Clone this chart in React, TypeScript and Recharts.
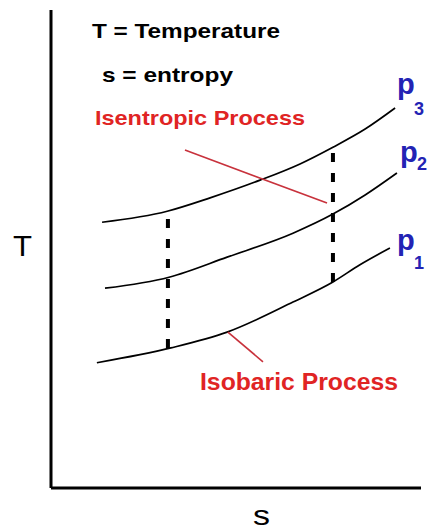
import { LineChart, Line, XAxis, YAxis, ReferenceLine } from "recharts";

// isobars: entropy s vs temperature T (arbitrary units 0-100)
const p1S = [12.4, 32.4, 47.6, 65.4, 76.2, 83.5, 91.6];
const p1T = [26.2, 29.3, 32.6, 38.9, 43.1, 46.7, 50.2];

const p2S = [14.6, 31.9, 47.6, 65.4, 76.2, 84.9, 93.5];
const p2T = [41.8, 44.1, 48.3, 53.3, 57.3, 61.3, 65.9];

const p3S = [13.8, 31.4, 43.0, 56.5, 67.3, 76.2, 84.9, 93.0];
const p3T = [55.6, 57.9, 60.7, 64.4, 67.8, 71.3, 75.1, 79.5];

// isentropic (constant s) steps between p1 and p3
const isoS = [31.6, 76.2];
const isoLowT = [29.3, 43.1];
const isoHighT = [57.7, 71.3];

const curveLabels = ["p", "p", "p"];
const curveSubs = ["1", "2", "3"];

const toRows = (s: number[], t: number[]) => s.map((v, i) => ({ s: v, T: t[i] }));

const FONT = "'Liberation Sans', Arial, sans-serif";
const RED = "#e02424";
const BLUE = "#2323b4";

export default function App() {
  const curves = [toRows(p1S, p1T), toRows(p2S, p2T), toRows(p3S, p3T)];
  const steps = isoS.map((s, i) => [
    { s, T: isoLowT[i] },
    { s, T: isoHighT[i] },
  ]);
  const subPos = [
    { x: 397, y: 250, sy: 269 },
    { x: 400, y: 162, sy: 170 },
    { x: 397, y: 94, sy: 115 },
  ];

  return (
    <div style={{ background: "#fff", width: 430, height: 531 }}>
      <style>{"body{margin:0}"}</style>
      <LineChart
        width={430}
        height={531}
        margin={{ top: 10, right: 9, bottom: 0, left: 0 }}
      >
        <XAxis
          type="number"
          dataKey="s"
          domain={[0, 100]}
          allowDataOverflow
          height={43}
          tick={false}
          tickLine={false}
          axisLine={{ stroke: "#000", strokeWidth: 3 }}
        />
        <YAxis
          type="number"
          dataKey="T"
          domain={[0, 100]}
          allowDataOverflow
          width={51}
          tick={false}
          tickLine={false}
          axisLine={{ stroke: "#000", strokeWidth: 3 }}
        />
        {curves.map((d, i) => (
          <Line
            key={"p" + i}
            data={d}
            dataKey="T"
            type="monotone"
            stroke="#000"
            strokeWidth={1.7}
            dot={false}
            isAnimationActive={false}
          />
        ))}
        {steps.map((d, i) => (
          <Line
            key={"iso" + i}
            data={d}
            dataKey="T"
            stroke="#000"
            strokeWidth={4}
            strokeDasharray="9 11"
            dot={false}
            isAnimationActive={false}
          />
        ))}
        <ReferenceLine
          segment={[
            { x: 36.2, y: 70.7 },
            { x: 74.6, y: 59.6 },
          ]}
          stroke="#c8323c"
          strokeWidth={1.6}
        />
        <ReferenceLine
          segment={[
            { x: 47.8, y: 32.6 },
            { x: 57.3, y: 26.4 },
          ]}
          stroke="#c8323c"
          strokeWidth={1.6}
        />

        <g fontFamily={FONT}>
          <text x={92} y={38} fontSize={21} fontWeight="bold" textLength={188} lengthAdjust="spacingAndGlyphs">
            T = Temperature
          </text>
          <text x={102} y={82} fontSize={21} fontWeight="bold" textLength={131} lengthAdjust="spacingAndGlyphs">
            s = entropy
          </text>
          <text x={95} y={125} fontSize={21} fontWeight="bold" fill={RED} textLength={210} lengthAdjust="spacingAndGlyphs">
            Isentropic Process
          </text>
          <text x={200} y={390} fontSize={23} fontWeight="bold" fill={RED} textLength={198} lengthAdjust="spacingAndGlyphs">
            Isobaric Process
          </text>
          <text x={13} y={256} fontSize={30} textLength={19} lengthAdjust="spacingAndGlyphs">
            T
          </text>
          <text x={253} y={525} fontSize={28} textLength={17} lengthAdjust="spacingAndGlyphs">
            s
          </text>
          {subPos.map((p, i) => (
            <g key={"lab" + i} fill={BLUE} fontWeight="bold">
              <text x={p.x} y={p.y} fontSize={29}>
                {curveLabels[i]}
              </text>
              <text x={p.x + 17} y={p.sy} fontSize={18}>
                {curveSubs[i]}
              </text>
            </g>
          ))}
        </g>
      </LineChart>
    </div>
  );
}
